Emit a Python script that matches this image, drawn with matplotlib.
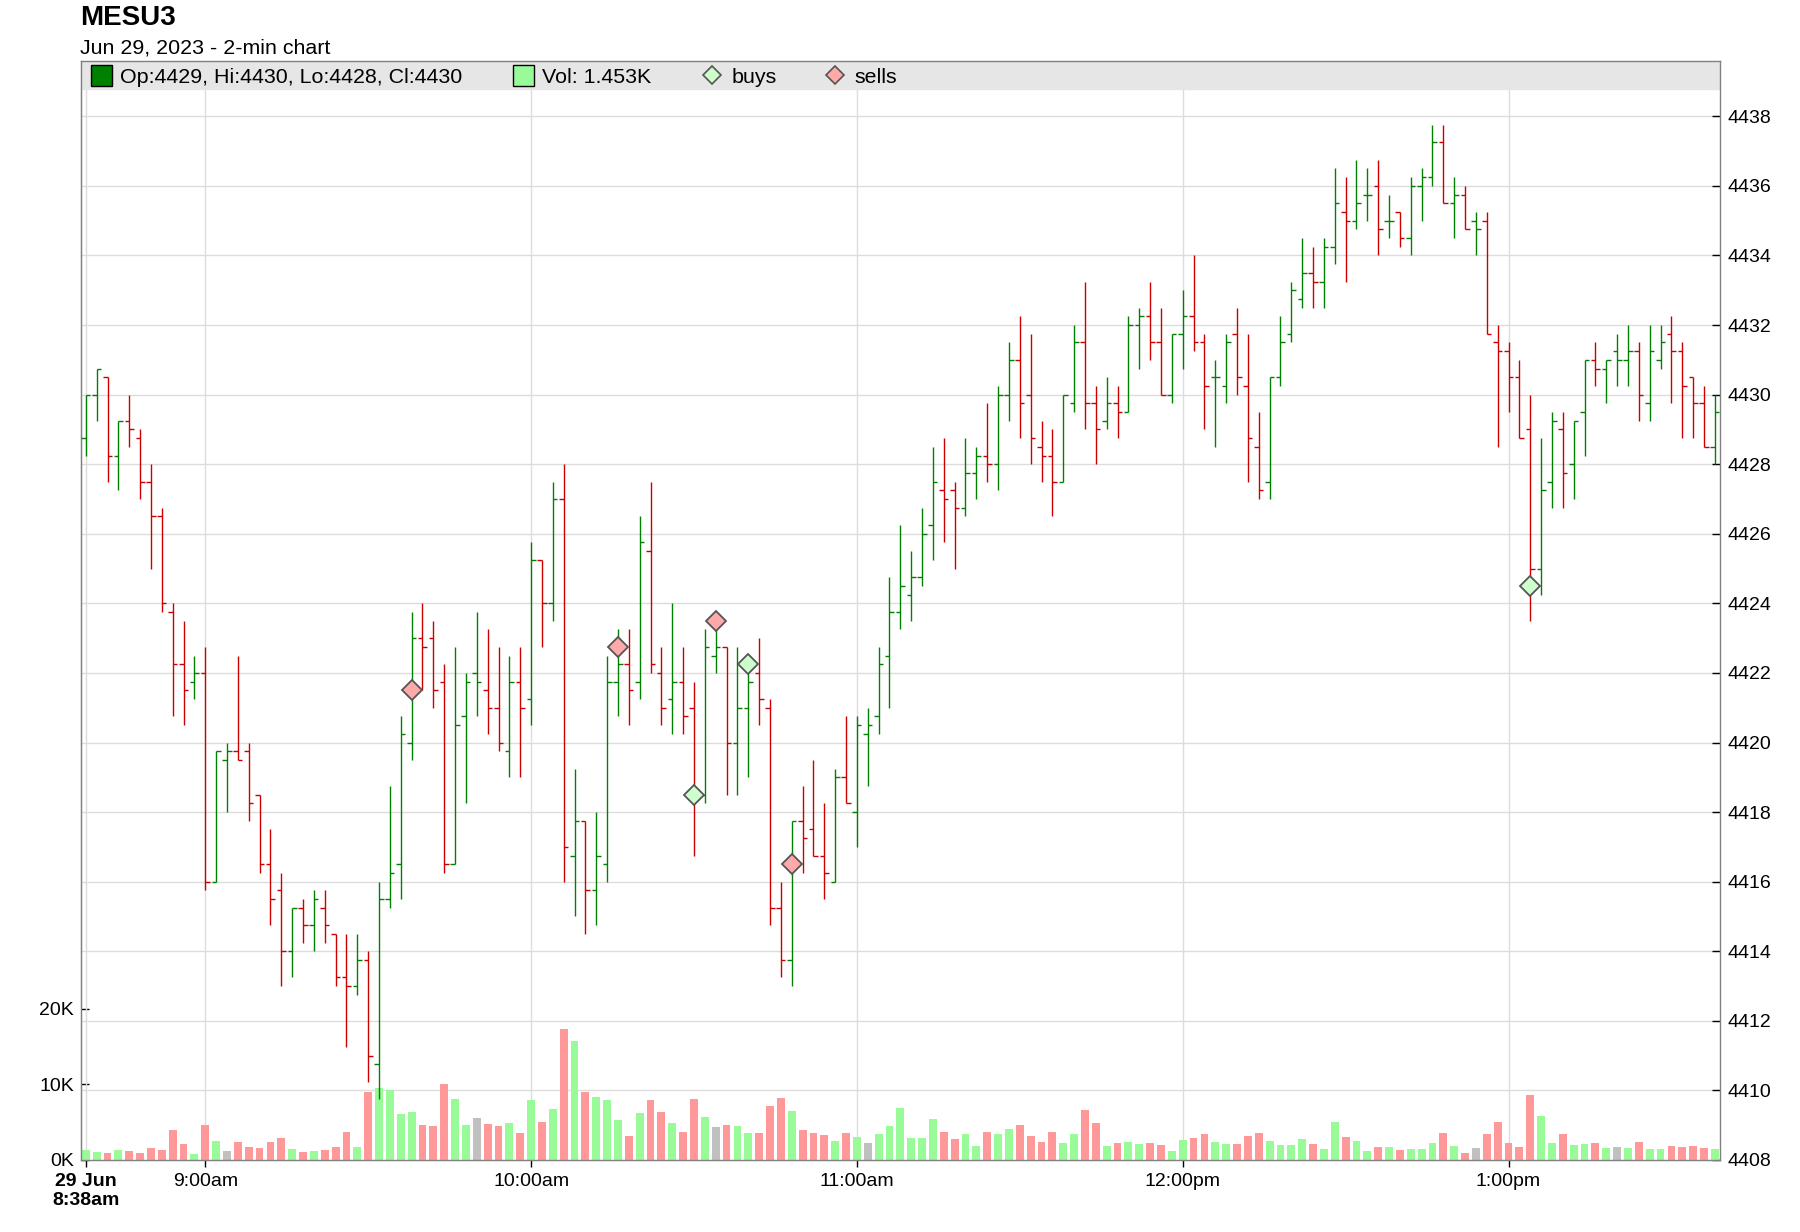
import numpy as np
import matplotlib.pyplot as plt
from matplotlib.patches import Rectangle
from matplotlib.lines import Line2D

plt.rcParams['font.family'] = ['Liberation Sans', 'DejaVu Sans']

# chart text
symbol = 'MESU3'
subtitle = 'Jun 29, 2023 - 2-min chart'
day_label = '29 Jun'
legend_ohlc = 'Op:4429, Hi:4430, Lo:4428, Cl:4430'
legend_vol = 'Vol: 1.453K'

# 2-min bars starting at 8:38am
start_minute = 8 * 60 + 38
bar_minutes = 2

opens = [4428.75, 4430, 4430.5, 4428.25, 4429.25, 4428.75, 4427.5, 4426.5, 4423.75, 4422.25,
         4421.75, 4422, 4416, 4419.5, 4419.75, 4419.75, 4418.5, 4416.5, 4415.75, 4414,
         4415.25, 4414.75, 4415.25, 4414.5, 4413.25, 4413, 4413.75, 4410.75, 4415.5, 4416.5,
         4420, 4423, 4423, 4421.75, 4416.5, 4420.75, 4422, 4421.5, 4421, 4419.75,
         4421.75, 4421.25, 4425.25, 4424, 4427, 4416.75, 4417.75, 4415.75, 4416.5, 4421.75,
         4422.25, 4421.75, 4425.5, 4422, 4421.25, 4421.75, 4421, 4418.5, 4422.5, 4422.75,
         4420, 4421, 4422, 4421, 4415.25, 4413.75, 4417.75, 4417.5, 4416.75, 4416,
         4419, 4418, 4420.25, 4420.75, 4422.5, 4423.75, 4424.25, 4424.75, 4426.25, 4427.25,
         4427.25, 4426.75, 4427.75, 4428.25, 4428, 4430, 4431, 4430, 4428.5, 4428.25,
         4427.5, 4429.75, 4431.5, 4429.75, 4429.25, 4429.75, 4429.5, 4432, 4432.25, 4431.5,
         4430, 4431.75, 4432.25, 4431.5, 4430.5, 4430.25, 4431.75, 4430.25, 4428.5, 4427.5,
         4430.5, 4431.75, 4432.75, 4433.5, 4433.25, 4434.25, 4435.25, 4435, 4435.75, 4436,
         4435, 4435.25, 4434.5, 4436, 4436.25, 4437.25, 4435.5, 4435.75, 4435, 4435,
         4431.5, 4431.25, 4430.5, 4429, 4425, 4427.5, 4429, 4428, 4429.5, 4431,
         4430.75, 4431.25, 4431, 4431.25, 4429.75, 4431, 4431.75, 4431.25, 4430.5, 4429.75,
         4428.5]
highs = [4430, 4430.75, 4430.5, 4429.25, 4430, 4429, 4428, 4426.75, 4424, 4423.5,
         4422.5, 4422.75, 4419.75, 4420, 4422.5, 4420, 4418.5, 4417.5, 4416.25, 4415.25,
         4415.5, 4415.75, 4415.75, 4414.5, 4414.5, 4414.5, 4414, 4416, 4418.75, 4420.75,
         4423.75, 4424, 4423.5, 4422.25, 4422.75, 4422, 4423.75, 4423.25, 4422.75, 4422.5,
         4422.75, 4425.75, 4425.25, 4427.5, 4428, 4419.25, 4417.75, 4418, 4422.5, 4423.25,
         4423.25, 4426.5, 4427.5, 4422.75, 4424, 4422.75, 4421.75, 4423.25, 4423.75, 4422.75,
         4422.75, 4422.25, 4423, 4421.25, 4416, 4417.75, 4418.75, 4419.5, 4418.25, 4419.25,
         4420.75, 4420.75, 4421, 4422.75, 4424.75, 4426.25, 4425.5, 4426.75, 4428.5, 4428.75,
         4427.5, 4428.75, 4428.5, 4429.75, 4430.25, 4431.5, 4432.25, 4431.75, 4429.25, 4429,
         4430, 4432, 4433.25, 4430.25, 4430.5, 4430.25, 4432.25, 4432.5, 4433.25, 4432.5,
         4431.75, 4433, 4434, 4431.75, 4431, 4431.75, 4432.5, 4431.75, 4429.5, 4430.5,
         4432.25, 4433.25, 4434.5, 4434.25, 4434.5, 4436.5, 4436.25, 4436.75, 4436.5, 4436.75,
         4435.75, 4435.25, 4436.25, 4436.5, 4437.75, 4437.75, 4436.25, 4436, 4435.25, 4435.25,
         4432, 4431.5, 4431, 4430, 4428.75, 4429.5, 4429.5, 4429.25, 4431, 4431.5,
         4431, 4431.75, 4432, 4431.5, 4432, 4432, 4432.25, 4431.5, 4430.5, 4430.25,
         4430]
lows = [4428.25, 4429.25, 4427.5, 4427.25, 4428.5, 4427, 4425, 4423.75, 4420.75, 4420.5,
        4421.25, 4415.75, 4416, 4418, 4419.5, 4417.75, 4416.25, 4414.75, 4413, 4413.25,
        4414.25, 4414, 4414.25, 4413, 4411.25, 4412.75, 4410.25, 4409.75, 4415.25, 4415.5,
        4419.5, 4421.5, 4421, 4416.25, 4416.5, 4418.25, 4420.75, 4420.25, 4419.75, 4419,
        4419, 4420.5, 4422.75, 4423.5, 4416, 4415, 4414.5, 4414.75, 4416, 4420.75,
        4420.5, 4421.25, 4422, 4420.5, 4420.25, 4420.25, 4416.75, 4418.25, 4422, 4418.5,
        4418.5, 4419, 4420.5, 4414.75, 4413.25, 4413, 4416.25, 4416.75, 4415.5, 4416,
        4418.25, 4417, 4418.75, 4420.25, 4421, 4423.25, 4423.5, 4424.5, 4425.25, 4425.75,
        4425, 4426.5, 4427, 4427.5, 4427.25, 4429.25, 4428.75, 4428, 4427.5, 4426.5,
        4427.5, 4429.5, 4429, 4428, 4429, 4428.75, 4429.5, 4430.75, 4431, 4430,
        4429.75, 4430.75, 4431.25, 4429, 4428.5, 4429.75, 4430, 4427.5, 4427, 4427,
        4430.25, 4431.5, 4432.5, 4432.5, 4432.5, 4433.75, 4433.25, 4434.75, 4435, 4434,
        4434.5, 4434.25, 4434, 4435, 4436, 4435.5, 4434.5, 4434.75, 4434, 4431.75,
        4428.5, 4429.5, 4428.75, 4423.5, 4424.25, 4426.75, 4426.75, 4427, 4428.25, 4430.25,
        4429.75, 4430.25, 4430.25, 4429.25, 4429.25, 4430.75, 4429.75, 4428.75, 4428.75, 4428.5,
        4428]
closes = [4430, 4430.75, 4428.25, 4429.25, 4429, 4427.5, 4426.5, 4424, 4422.25, 4421.5,
          4422, 4416, 4419.75, 4419.75, 4419.5, 4418.25, 4416.5, 4415.5, 4414, 4415.25,
          4414.75, 4415.5, 4414.75, 4413.25, 4413, 4413.75, 4411, 4415.5, 4416.25, 4420.25,
          4423, 4422.75, 4421.5, 4416.5, 4420.5, 4421.75, 4421.75, 4421, 4420, 4421.75,
          4421, 4425.25, 4424, 4427, 4417, 4417.75, 4415.75, 4416.75, 4421.75, 4422.25,
          4421.5, 4425.75, 4422.25, 4421, 4421.75, 4420.75, 4418.5, 4422.75, 4422.75, 4420,
          4421, 4421.75, 4421.25, 4415.25, 4413.75, 4417.75, 4417.25, 4416.75, 4416.25, 4419,
          4418.25, 4420.5, 4420.5, 4422.25, 4423.75, 4424.5, 4424.75, 4426, 4427.5, 4427,
          4426.75, 4427.75, 4428.25, 4428, 4430, 4431, 4429.75, 4428.75, 4428.25, 4427.5,
          4430, 4431.5, 4429.75, 4429, 4429.75, 4429.5, 4432, 4432.25, 4431.5, 4430,
          4431.75, 4432.25, 4431.5, 4430.25, 4430.5, 4431.5, 4430.5, 4428.75, 4427.25, 4430.5,
          4431.5, 4433, 4433.5, 4433.25, 4434.25, 4435.5, 4435, 4435.5, 4435.75, 4434.75,
          4435, 4434.5, 4436, 4436.25, 4437.25, 4435.5, 4435.75, 4434.75, 4434.75, 4431.75,
          4431.25, 4430.5, 4428.75, 4425, 4427.25, 4429.25, 4427.75, 4429.25, 4431, 4430.75,
          4431, 4431, 4431.25, 4430, 4431.25, 4431.5, 4431.25, 4430.25, 4429.75, 4428.5,
          4429.5]
# volume in thousands
volume_k = [1.32, 1.05, 0.92, 1.32, 1.18, 0.92, 1.58, 1.32, 3.95, 2.1,
            0.79, 4.6, 2.5, 1.18, 2.37, 1.71, 1.58, 2.37, 2.9, 1.45,
            1.05, 1.18, 1.32, 1.71, 3.68, 1.71, 8.95, 9.47, 9.2, 6.05,
            6.3, 4.6, 4.47, 10.0, 8.03, 4.6, 5.53, 4.74, 4.47, 4.87,
            3.55, 7.9, 5.0, 6.7, 17.24, 15.66, 8.95, 8.29, 7.9, 5.26,
            3.16, 6.18, 7.9, 6.3, 4.87, 3.68, 8.03, 5.66, 4.34, 4.6,
            4.47, 3.55, 3.55, 7.1, 8.16, 6.45, 3.95, 3.55, 3.29, 2.5,
            3.55, 3.03, 2.24, 3.42, 4.47, 6.84, 2.9, 2.9, 5.39, 3.68,
            2.76, 3.42, 1.84, 3.68, 3.42, 4.08, 4.6, 3.16, 2.37, 3.68,
            2.24, 3.42, 6.58, 4.87, 1.84, 2.24, 2.37, 2.1, 2.24, 1.97,
            1.18, 2.63, 2.9, 3.42, 2.37, 2.1, 2.1, 3.16, 3.55, 2.5,
            1.97, 1.97, 2.76, 2.1, 1.45, 5.0, 3.03, 2.5, 1.18, 1.71,
            1.71, 1.32, 1.45, 1.45, 2.24, 3.55, 1.84, 0.92, 1.58, 3.42,
            5.0, 2.24, 1.71, 8.55, 5.79, 2.24, 3.42, 1.97, 2.1, 2.24,
            1.58, 1.71, 1.58, 2.37, 1.45, 1.45, 1.84, 1.71, 1.84, 1.58,
            1.453]

buy_bars = [56, 61, 133]
buy_prices = [4418.5, 4422.25, 4424.5]
sell_bars = [30, 49, 58, 65]
sell_prices = [4421.5, 4422.75, 4423.5, 4416.5]

# figure in pixels
W, H = 1800, 1232
def fx(px):
    return px / W
def fy(py):
    return 1 - py / H

plot_left, plot_right, plot_top, plot_bottom = 80.7, 1720.3, 61, 1160
px_per_point = 34.79     # pixels per 1.0 of price
px_per_k = 7.57          # pixels per 1K volume
vol_scale = px_per_k / px_per_point
price_min = 4408

fig = plt.figure(figsize=(W / 100, H / 100), dpi=100)
ax = fig.add_axes([fx(plot_left), fy(plot_bottom),
                   (plot_right - plot_left) / W, (plot_bottom - plot_top) / H])

n = len(closes)
x = np.arange(n)
o = np.array(opens)
c = np.array(closes)
prev = np.r_[o[0], c[:-1]]
up = c >= prev
flat = c == prev
bar_col = np.where(up, '#008000', '#cc0000')
vol_col = np.where(flat, '#c0c0c0', np.where(up, '#98fb98', '#ff9999'))

# volume bars sit on the price baseline
ax.bar(x, np.array(volume_k) * vol_scale, bottom=price_min, width=0.72,
       color=vol_col, zorder=1, linewidth=0)

# OHLC bars
ax.vlines(x, lows, highs, colors=bar_col, lw=1.0, zorder=3)
ax.hlines(opens, x - 0.42, x, colors=bar_col, lw=1.0, zorder=3)
ax.hlines(closes, x, x + 0.42, colors=bar_col, lw=1.0, zorder=3)

ax.plot(sell_bars, sell_prices, 'D', ms=10.5, mfc='#ffaaaa', mec='#555555', mew=1.3, zorder=5)
ax.plot(buy_bars, buy_prices, 'D', ms=10.5, mfc='#ccffcc', mec='#555555', mew=1.3, zorder=5)

ax.set_xlim(-0.47, 150.5)
ax.set_ylim(price_min, price_min + (plot_bottom - plot_top) / px_per_point)

# price axis on the right
ax.yaxis.tick_right()
ax.set_yticks(np.arange(4408, 4439, 2))
ax.tick_params(axis='y', direction='in', length=6, width=1, labelsize=14, pad=5)

# time axis: first bar and each full hour
minutes = start_minute + bar_minutes * x
tick_idx = [0] + [i for i in x if minutes[i] % 60 == 0]
tick_lab = []
for i in tick_idx:
    h, m = divmod(int(minutes[i]), 60)
    suffix = 'am' if h < 12 else 'pm'
    h12 = h if h <= 12 else h - 12
    tick_lab.append(f'{h12}:{m:02d}{suffix}')
tick_lab[0] = day_label + '\n' + tick_lab[0]
ax.set_xticks(tick_idx)
ax.set_xticklabels(tick_lab)
ax.get_xticklabels()[0].set_fontweight('bold')
ax.tick_params(axis='x', direction='out', length=5, width=1, labelsize=14, pad=4)

ax.grid(True, color='#dcdcdc', lw=1)
ax.set_axisbelow(True)
for s in ax.spines.values():
    s.set_color('#808080')
    s.set_linewidth(1)

# volume axis on the left
sec = ax.secondary_yaxis('left', functions=(lambda p: (p - price_min) / vol_scale,
                                            lambda v: price_min + v * vol_scale))
sec.set_yticks([0, 10, 20])
sec.set_yticklabels(['0K', '10K', '20K'])
sec.tick_params(direction='in', length=6, width=1, labelsize=14, pad=5)
sec.spines['left'].set_color('#808080')

# legend band (covers the grid)
band_bottom = 89.3
ax.add_patch(Rectangle((0, (plot_bottom - band_bottom) / (plot_bottom - plot_top)),
                       1, (band_bottom - plot_top) / (plot_bottom - plot_top),
                       transform=ax.transAxes, color='#e6e6e6', zorder=0.8))
leg_mid = (plot_top + band_bottom) / 2
leg_y = fy(leg_mid)
txt_y = fy(leg_mid + 2.5)
sq = 21
fig.add_artist(Rectangle((fx(90.7), leg_y - sq / 2 / H), sq / W, sq / H,
                         transform=fig.transFigure, facecolor='#008000', edgecolor='black', lw=1))
fig.text(fx(120), txt_y, legend_ohlc, fontsize=15.4, va='center')
fig.add_artist(Rectangle((fx(512.5), leg_y - sq / 2 / H), sq / W, sq / H,
                         transform=fig.transFigure, facecolor='#98fb98', edgecolor='black', lw=1))
fig.text(fx(542), txt_y, legend_vol, fontsize=15.4, va='center')
fig.add_artist(Line2D([fx(711.5)], [leg_y], marker='D', ms=9.5, mfc='#ccffcc', mec='#555555',
                      mew=1.2, transform=fig.transFigure))
fig.text(fx(731.5), txt_y, 'buys', fontsize=15.4, va='center')
fig.add_artist(Line2D([fx(834.5)], [leg_y], marker='D', ms=9.5, mfc='#ffaaaa', mec='#555555',
                      mew=1.2, transform=fig.transFigure))
fig.text(fx(854), txt_y, 'sells', fontsize=15.4, va='center')

fig.text(fx(80), fy(25), symbol, fontsize=20, fontweight='bold', va='baseline')
fig.text(fx(80), fy(54), subtitle, fontsize=15.4, va='baseline')

fig.savefig('out.png', dpi=100)
